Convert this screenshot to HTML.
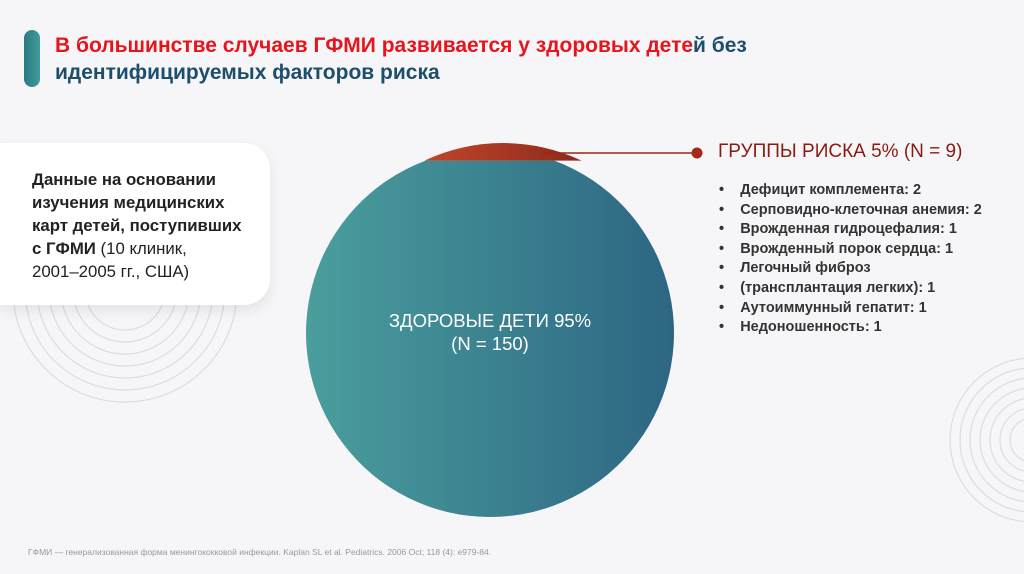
<!DOCTYPE html>
<html><head><meta charset="utf-8"><style>
html,body{margin:0;padding:0;width:1024px;height:574px;overflow:hidden;background:#f6f6f8;font-family:"Liberation Sans",sans-serif}
.abs{position:absolute}
ul li{white-space:nowrap}
</style></head><body>
<div class="abs" style="left:0;top:0;width:1024px;height:574px">
<svg class="abs" style="left:0;top:0" width="1024" height="574">
<defs>
<linearGradient id="tg" x1="0" x2="1"><stop offset="0" stop-color="#4a9e9d"/><stop offset="1" stop-color="#2d6683"/></linearGradient>
<linearGradient id="rg" x1="0" x2="1"><stop offset="0" stop-color="#c1452a"/><stop offset="1" stop-color="#8b2a1c"/></linearGradient>
</defs>
<g id="rings"></g>
<g id="pie"></g>
</svg>
<div class="abs" style="left:24px;top:30px;width:16px;height:57px;border-radius:8px;background:linear-gradient(90deg,#2a7a80,#3f9c9a)"></div>
<div class="abs" style="left:55px;top:32px;font-size:21px;font-weight:bold;line-height:27px;color:#1d4f6b"><span style="color:#e8141c">В большинстве случаев ГФМИ развивается у здоровых дете</span>й без<br>идентифицируемых факторов риска</div>
<div class="abs" style="left:0;top:143px;width:270px;height:162px;background:#fff;border-radius:0 26px 26px 0;box-shadow:0 6px 14px rgba(0,0,0,0.08)"></div>
<div class="abs" style="left:32px;top:168px;font-size:16.8px;line-height:23px;color:#222;white-space:nowrap"><b>Данные на основании<br>изучения медицинских<br>карт детей, поступивших<br>с ГФМИ</b> (10 клиник,<br>2001–2005 гг., США)</div>
<div class="abs" style="left:340px;top:309px;width:300px;text-align:center;color:#fff;font-size:18.5px;line-height:23px">ЗДОРОВЫЕ ДЕТИ 95%<br>(N = 150)</div>
<div class="abs" style="left:718px;top:141px;font-size:19px;color:#8b1a10;white-space:nowrap">ГРУППЫ РИСКА 5% (N = 9)</div>
<ul class="abs" style="left:719px;top:181px;margin:0;padding:0;font-size:14.5px;line-height:19.6px;font-weight:bold;color:#333;list-style:none">
<li>•&nbsp;&nbsp;&nbsp; Дефицит комплемента: 2</li>
<li>•&nbsp;&nbsp;&nbsp; Серповидно-клеточная анемия: 2</li>
<li>•&nbsp;&nbsp;&nbsp; Врожденная гидроцефалия: 1</li>
<li>•&nbsp;&nbsp;&nbsp; Врожденный порок сердца: 1</li>
<li>•&nbsp;&nbsp;&nbsp; Легочный фиброз</li>
<li>•&nbsp;&nbsp;&nbsp; (трансплантация легких): 1</li>
<li>•&nbsp;&nbsp;&nbsp; Аутоиммунный гепатит: 1</li>
<li>•&nbsp;&nbsp;&nbsp; Недоношенность: 1</li>
</ul>
<div class="abs" style="left:28px;top:547px;font-size:8.5px;color:#999;white-space:nowrap">ГФМИ — генерализованная форма менингококковой инфекции. Kaplan SL et al. Pediatrics. 2006 Oct; 118 (4): e979-84.</div>
</div>
<script>
const categories = ["Здоровые дети", "Группы риска"];
const counts = [150, 9];
const ns = "http://www.w3.org/2000/svg";
function mk(tag, attrs, parent){const e=document.createElementNS(ns,tag);for(const k in attrs)e.setAttribute(k,attrs[k]);parent.appendChild(e);return e;}
const rings=document.getElementById('rings');
[[125,290,[40,52,64,76,88,100,112]],[1032,440,[22,32,42,52,62,72,82]]].forEach(([rx,ry,rs])=>{
  rs.forEach(r=>{const c=mk('circle',{cx:rx,cy:ry,r:r,fill:'none',stroke:'#dcdde0','stroke-width':1.2},rings);
  
  });
});
const pie=document.getElementById('pie');
const total=counts.reduce((a,b)=>a+b,0);
const share=counts[1]/total;
const pcx=490, pcy=333, R=184;
const pieTop=pcy-R-4;
const cutY=pieTop+share*2*R*0.75;
const hw=Math.sqrt(R*R-(cutY-pcy)**2);
const x1=pcx-hw, x2=pcx+hw;
const teal=mk('path',{d:`M${x1},${cutY} L${x2},${cutY} A${R},${R} 0 1 1 ${x1},${cutY} Z`,fill:'url(#tg)'},pie);


const rcx=pcx+13, rcy=pieTop-2+R;
const rhw=Math.sqrt(R*R-(cutY-rcy)**2);
const red=mk('path',{d:`M${rcx-rhw},${cutY} A${R},${R} 0 0 1 ${rcx+rhw},${cutY} Z`,fill:'url(#rg)'},pie);


const ly=pieTop+8;
const ln=mk('line',{x1:rcx+40,y1:ly,x2:696,y2:ly,stroke:'#9e2416','stroke-width':1.5},pie);


const dot=mk('circle',{cx:697,cy:ly,r:5.5,fill:'#a52a1a'},pie);


</script>
</body></html>
